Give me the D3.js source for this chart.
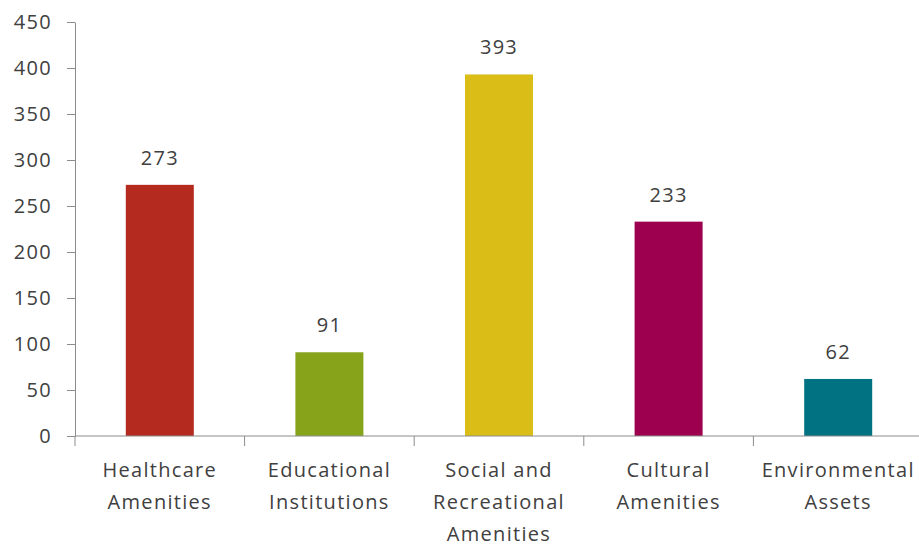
<!DOCTYPE html>
<html>
<head>
<meta charset="utf-8">
<script src="https://cdn.jsdelivr.net/npm/d3@7"></script>
<style>
  html, body { margin: 0; padding: 0; background: #fff; }
  svg text { font-family: "Open Sans", "Noto Sans", sans-serif; fill: #404040; letter-spacing: 1.3px; }
</style>
</head>
<body>
<svg id="chart" width="919" height="548"></svg>
<script>
// Amenity counts by category
const categories = [
  ["Healthcare", "Amenities"],
  ["Educational", "Institutions"],
  ["Social and", "Recreational", "Amenities"],
  ["Cultural", "Amenities"],
  ["Environmental", "Assets"]
];
const values = [273, 91, 393, 233, 62];
const barColors = ["#b52a1f", "#86a31a", "#dbbd18", "#9e0050", "#007282"];
const yTicks = [0, 50, 100, 150, 200, 250, 300, 350, 400, 450];

const W = 919, H = 548;
const plotLeft = 75, plotTop = 22, plotBottom = 436;
const svg = d3.select("#chart");

// the last category band runs slightly past the right edge of the canvas
const x = d3.scaleBand()
  .domain(d3.range(values.length))
  .range([plotLeft, plotLeft + 5 * 169.6])
  .padding(0);

const y = d3.scaleLinear()
  .domain([0, 450])
  .range([plotBottom, plotTop]);

const barW = 68;
const axisColor = "#8c8c8c";
const fontSize = 20;

// bars
svg.append("g").selectAll("rect")
  .data(values)
  .join("rect")
  .attr("x", (d, i) => x(i) + (x.bandwidth() - barW) / 2)
  .attr("y", d => y(d))
  .attr("width", barW)
  .attr("height", d => y(0) - y(d))
  .attr("fill", (d, i) => barColors[i]);

// value labels
svg.append("g").selectAll("text")
  .data(values)
  .join("text")
  .attr("x", (d, i) => x(i) + x.bandwidth() / 2)
  .attr("y", d => y(d) - 20)
  .attr("text-anchor", "middle")
  .attr("font-size", fontSize)
  .text(d => d);

// y axis
const yAxis = svg.append("g")
  .attr("transform", `translate(${plotLeft},0)`)
  .call(d3.axisLeft(y).tickValues(yTicks).tickSize(8).tickPadding(15).tickSizeOuter(0));
yAxis.select(".domain").attr("stroke", axisColor);
yAxis.selectAll(".tick line").attr("stroke", axisColor);
yAxis.selectAll(".tick text").attr("font-size", fontSize).attr("fill", "#404040")
  .style("font-family", '"Open Sans", "Noto Sans", sans-serif');

// x axis with category boundary ticks
const xAxisG = svg.append("g").attr("transform", `translate(0,${y(0)})`);
xAxisG.append("line")
  .attr("x1", plotLeft).attr("x2", W)
  .attr("stroke", axisColor);
const bounds = d3.range(values.length).map(i => x(i));
xAxisG.selectAll("line.b")
  .data(bounds)
  .join("line")
  .attr("class", "b")
  .attr("x1", d => d).attr("x2", d => d)
  .attr("y1", 0).attr("y2", 10)
  .attr("stroke", axisColor);

// category labels
const labels = svg.append("g").selectAll("text")
  .data(categories)
  .join("text")
  .attr("x", (d, i) => x(i) + x.bandwidth() / 2)
  .attr("y", y(0) + 41)
  .attr("text-anchor", "middle")
  .attr("font-size", fontSize);
labels.selectAll("tspan")
  .data(d => d)
  .join("tspan")
  .attr("x", function () { return this.parentNode.getAttribute("x"); })
  .attr("dy", (d, i) => i === 0 ? 0 : 32)
  .text(d => d);
</script>
</body>
</html>
